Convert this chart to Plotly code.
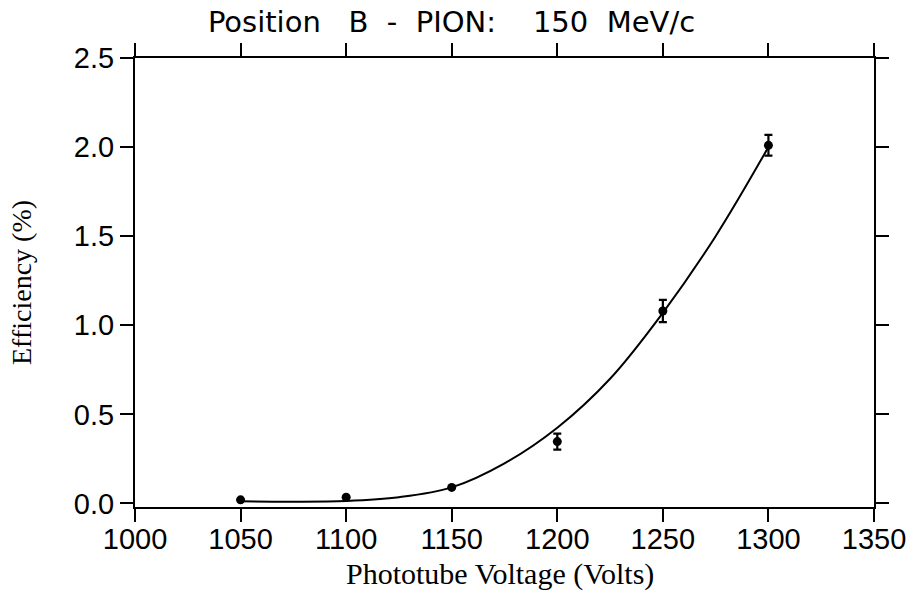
import plotly.graph_objects as go

# Measured points
voltage = [1050, 1100, 1150, 1200, 1250, 1300]
efficiency = [0.02, 0.035, 0.09, 0.347, 1.08, 2.01]
eff_err = [0.0, 0.0, 0.0, 0.045, 0.062, 0.058]

# Fitted curve
fit_voltage = [1050, 1075, 1100, 1125, 1150, 1175, 1200, 1225, 1250, 1275, 1300]
fit_eff = [0.012, 0.010, 0.014, 0.035, 0.09, 0.225, 0.425, 0.70, 1.07, 1.50, 2.00]

x_ticks = [1000, 1050, 1100, 1150, 1200, 1250, 1300, 1350]
y_ticks = [0.0, 0.5, 1.0, 1.5, 2.0, 2.5]

tick_font = dict(family="Liberation Sans, Arial, sans-serif", size=29, color="black")
xtitle_font = dict(family="Liberation Serif, Times New Roman, serif", size=30, color="black")
ytitle_font = dict(family="Liberation Serif, Times New Roman, serif", size=28, color="black")

W, H = 910, 593
M_L, M_R, M_T, M_B = 135, 36, 58, 86
plot_h = H - M_T - M_B

fig = go.Figure()
fig.add_trace(go.Scatter(
    x=fit_voltage, y=fit_eff, mode="lines",
    line=dict(color="black", width=2, shape="spline", smoothing=1.0),
    showlegend=False, hoverinfo="skip"))
fig.add_trace(go.Scatter(
    x=voltage, y=efficiency, mode="markers",
    marker=dict(color="black", size=9),
    error_y=dict(type="data", array=eff_err, visible=True, color="black",
                 thickness=2.2, width=4),
    showlegend=False))

axis_common = dict(
    showline=True, linecolor="black", linewidth=2, mirror="allticks",
    ticks="outside", ticklen=13, tickwidth=2, tickcolor="black",
    showgrid=False, zeroline=False, automargin=False)

fig.update_xaxes(range=[1000, 1350], tickvals=x_ticks,
                 ticktext=[str(v) for v in x_ticks], tickfont=tick_font,
                 ticklabelstandoff=-8,
                 **axis_common)
fig.update_yaxes(range=[-0.02, 2.5], tickvals=y_ticks,
                 ticktext=[f"{v:.1f}" for v in y_ticks], tickfont=tick_font,
                 title=dict(text="Efficiency (%)", font=ytitle_font, standoff=34),
                 **axis_common)

fig.add_annotation(text="Phototube Voltage (Volts)", font=xtitle_font,
                   xref="paper", yref="paper", x=0.494, y=-(574 - (H - M_B)) / plot_h,
                   xanchor="center", yanchor="middle", showarrow=False)

fig.update_layout(
    width=W, height=H,
    margin=dict(l=M_L, r=M_R, t=M_T, b=M_B),
    paper_bgcolor="white", plot_bgcolor="white",
    title=dict(text="Position\u00a0\u00a0 B\u00a0 -\u00a0 PION:\u00a0\u00a0\u00a0 150\u00a0 MeV/c",
               font=dict(family="DejaVu Sans, Liberation Sans, sans-serif", size=29, color="black"),
               x=(200 + 703) / 2 / W, xanchor="center", xref="container",
               y=1 - 22 / H, yanchor="middle", yref="container"),
)

fig.write_html("out.html")
